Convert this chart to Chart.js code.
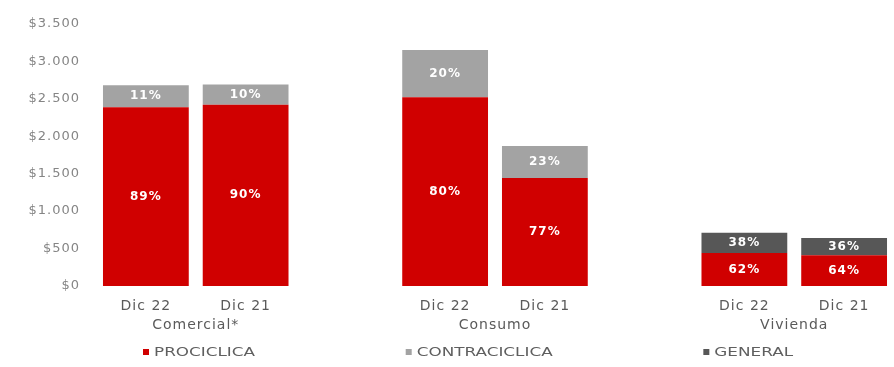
<!DOCTYPE html>
<html>
<head>
<meta charset="utf-8">
<script src="https://cdn.jsdelivr.net/npm/chart.js@4/dist/chart.umd.min.js"></script>
<style>
  html, body { margin: 0; padding: 0; background: #ffffff; }
  #wrap { width: 894px; height: 367px; }
</style>
</head>
<body>
<div id="wrap"><canvas id="c" width="894" height="367"></canvas></div>
<script>
// Periods per bar slot; empty slots separate the three portfolios
const periods = ['Dic 22', 'Dic 21', '', 'Dic 22', 'Dic 21', '', 'Dic 22', 'Dic 21'];
const segments = ['Comercial*', 'Consumo', 'Vivienda'];

// Provision balances (millions) by type
const prociclica    = [2385, 2420, null, 2520, 1440, null, 440, 410];
const contraciclica = [295, 270, null, 630, 430, null, null, null];
const general       = [null, null, null, null, null, null, 270, 230];

const seriesNames = ['PROCICLICA', 'CONTRACICLICA', 'GENERAL'];
const yTickValues = [0, 500, 1000, 1500, 2000, 2500, 3000, 3500];

const FONT = '"DejaVu Sans", "Liberation Sans", sans-serif';
Chart.defaults.font.family = FONT;

// Slot in the middle of each pair of bars, where the portfolio name goes
const groupCenters = segments.map((_, g) => g * 3 + 0.5);

const fmtMoney = v => '$' + String(v).replace(/\B(?=(\d{3})+(?!\d))/g, '.');

// Slightly wider text tracking
const tracking = {
  id: 'tracking',
  beforeLayout(chart) { chart.ctx.letterSpacing = '1px'; },
  beforeDraw(chart) { chart.ctx.letterSpacing = '1px'; }
};

// Percentage share of each segment within its bar
const shareLabels = {
  id: 'shareLabels',
  afterDatasetsDraw(chart) {
    const ctx = chart.ctx;
    const ds = chart.data.datasets;
    ctx.save();
    ctx.font = 'bold 12px ' + FONT;
    ctx.fillStyle = '#ffffff';
    ctx.textAlign = 'center';
    ctx.textBaseline = 'middle';
    ds.forEach((d, di) => {
      const meta = chart.getDatasetMeta(di);
      meta.data.forEach((bar, i) => {
        const v = d.data[i];
        if (v == null) return;
        const total = ds.reduce((s, e) => s + (e.data[i] || 0), 0);
        const pct = Math.round(v / total * 100);
        ctx.fillText(pct + '%', bar.x, (bar.y + bar.base) / 2);
      });
    });
    ctx.restore();
  }
};

// Bottom legend spread across the width, with horizontally widened lettering
const wideLegend = {
  id: 'wideLegend',
  afterDraw(chart, args, opts) {
    const ctx = chart.ctx;
    const ds = chart.data.datasets;
    const sx = opts.stretch;
    ctx.save();
    ctx.font = '12px ' + FONT;
    ctx.letterSpacing = '0px';
    ctx.textBaseline = 'middle';
    ctx.textAlign = 'left';
    const box = 6, gapText = 5;
    const widths = ds.map(d => box + gapText + ctx.measureText(d.label).width * sx);
    const used = widths.reduce((a, b) => a + b, 0);
    const gap = (opts.right - opts.left - used) / (ds.length - 1);
    let x = opts.left;
    const y = opts.y;
    ds.forEach((d, i) => {
      ctx.fillStyle = d.backgroundColor;
      ctx.fillRect(x, y - box / 2, box, box);
      ctx.save();
      ctx.translate(x + box + gapText, y + 0.5);
      ctx.scale(sx, 1);
      ctx.fillStyle = '#5f5f5f';
      ctx.fillText(d.label, 0, 0);
      ctx.restore();
      x += widths[i] + gap;
    });
    ctx.restore();
  }
};

new Chart(document.getElementById('c'), {
  type: 'bar',
  data: {
    labels: periods,
    datasets: [
      { label: seriesNames[0], data: prociclica, backgroundColor: '#d00000' },
      { label: seriesNames[1], data: contraciclica, backgroundColor: '#a3a3a3' },
      { label: seriesNames[2], data: general, backgroundColor: '#575757' }
    ]
  },
  options: {
    responsive: false,
    animation: false,
    devicePixelRatio: 1,
    layout: { padding: { top: 23, bottom: 35, left: 0, right: 0 } },
    datasets: { bar: { categoryPercentage: 1, barPercentage: 0.86 } },
    plugins: {
      legend: { display: false },
      tooltip: { enabled: false },
      wideLegend: { left: 143, right: 793, y: 352, stretch: 1.4 }
    },
    scales: {
      x: {
        stacked: true,
        weight: 1,
        grid: { display: false, drawTicks: false },
        border: { display: false },
        afterFit: s => { s.height = 28; },
        ticks: { color: '#5a5a5a', font: { size: 14 }, padding: 12, autoSkip: false, maxRotation: 0 }
      },
      x2: {
        type: 'linear',
        position: 'bottom',
        weight: 2,
        offset: false,
        min: -0.5,
        max: 7.5,
        grid: { display: false, drawTicks: false },
        border: { display: false },
        afterFit: s => { s.height = 18; },
        afterBuildTicks: axis => { axis.ticks = groupCenters.map(v => ({ value: v })); },
        ticks: {
          color: '#5a5a5a',
          font: { size: 14 },
          padding: 3,
          autoSkip: false,
          maxRotation: 0,
          callback: v => segments[groupCenters.indexOf(v)]
        }
      },
      y: {
        stacked: true,
        min: 0,
        max: 3500,
        grid: { display: false, drawTicks: false },
        border: { display: false },
        afterFit: s => { s.width = 96; },
        afterBuildTicks: axis => { axis.ticks = yTickValues.map(v => ({ value: v })); },
        ticks: { color: '#858585', font: { size: 13 }, padding: 16, callback: v => fmtMoney(v) }
      }
    }
  },
  plugins: [tracking, shareLabels, wideLegend]
});
</script>
</body>
</html>
